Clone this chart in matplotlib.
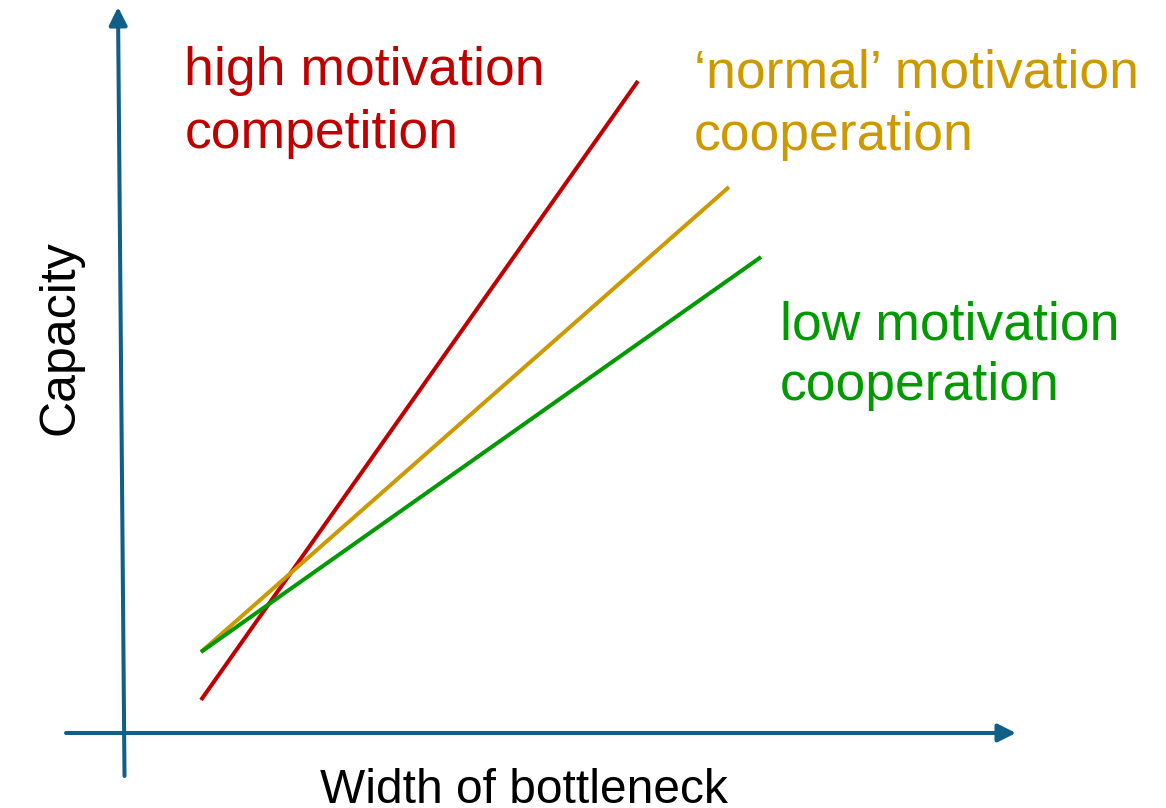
import matplotlib.pyplot as plt

# capacity vs. width of bottleneck (schematic, arbitrary units)
high_x = [0.77, 5.14]
high_y = [0.33, 6.52]
normal_x = [0.77, 6.05]
normal_y = [0.81, 5.46]
low_x = [0.77, 6.37]
low_y = [0.81, 4.76]

labels = ['high motivation\ncompetition',
          '\u2018normal\u2019 motivation\ncooperation',
          'low motivation\ncooperation']
colors = ['#C00000', '#CC9900', '#009900']
axis_color = '#0F5F86'
font = ['Liberation Sans', 'DejaVu Sans']

fig = plt.figure(figsize=(11.66, 8.08), dpi=100)
ax = fig.add_axes([0, 0, 1, 1])
ax.set_xlim(-1.24, 10.42)
ax.set_ylim(-0.75, 7.33)
ax.axis('off')

# hand drawn looking axes with arrow heads
arrow = dict(arrowstyle='-|>,head_length=0.4,head_width=0.2', lw=2.9,
             color=axis_color, mutation_scale=27, shrinkA=0, shrinkB=0)
ax.annotate('', xy=(8.92, 0), xytext=(-0.58, 0), arrowprops=arrow)
ax.annotate('', xy=(-0.06, 7.26), xytext=(0.005, -0.43), arrowprops=arrow)

for (xs, ys), c in zip([(high_x, high_y), (normal_x, normal_y), (low_x, low_y)], colors):
    ax.plot(xs, ys, color=c, lw=2.9, solid_capstyle='butt')

# labels, one text per line so the baselines sit where they should
spots = [(0.605, 6.48, 5.85), (5.70, 6.46, 5.83), (6.56, 3.94, 3.33)]
for lab, c, (x, y1, y2) in zip(labels, colors, spots):
    l1, l2 = lab.split('\n')
    ax.text(x, y1, l1, color=c, fontsize=38.5, family=font, va='baseline')
    ax.text(x, y2, l2, color=c, fontsize=38.5, family=font, va='baseline')

ax.text(3.995, -0.70, 'Width of bottleneck', fontsize=34.5, family=font,
        ha='center', va='baseline')
ax.text(-0.51, 3.955, 'Capacity', fontsize=36, family=font, rotation=90,
        rotation_mode='anchor', ha='center', va='baseline')

fig.savefig('out.png', dpi=100)
